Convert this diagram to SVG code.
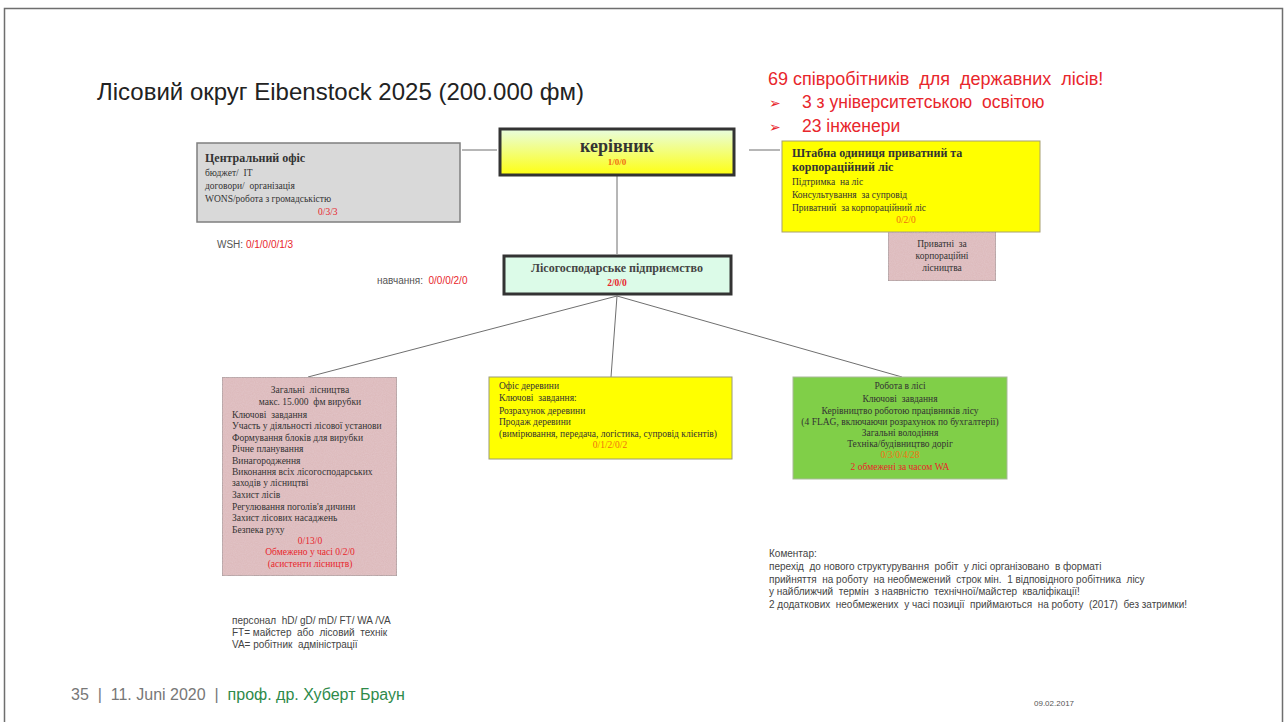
<svg xmlns="http://www.w3.org/2000/svg" width="1285" height="722" viewBox="0 0 1285 722">
<defs>
<linearGradient id="gBoss" x1="0" y1="0" x2="0" y2="1">
<stop offset="0" stop-color="#e8fde0"/>
<stop offset="1" stop-color="#ffff10"/>
</linearGradient>
<filter id="tex" x="0" y="0" width="1" height="1">
<feTurbulence type="fractalNoise" baseFrequency="0.9" numOctaves="2" seed="3" result="n"/>
<feColorMatrix in="n" type="matrix" values="0 0 0 0 0.85  0 0 0 0 0.7  0 0 0 0 0.72  0 0 0 0.35 0" result="c"/>
<feComposite in="c" in2="SourceGraphic" operator="in" result="t"/>
<feMerge><feMergeNode in="SourceGraphic"/><feMergeNode in="t"/></feMerge>
</filter>
<style>
text{white-space:pre}
.sans{font-family:"Liberation Sans",Arial,sans-serif}
.serif{font-family:"Liberation Serif","Times New Roman",serif}
.bt{font-family:"Liberation Serif","Times New Roman",serif;font-size:9.5px;fill:#333}
.bh{font-family:"Liberation Serif","Times New Roman",serif;font-size:12px;font-weight:bold;fill:#333}
.red{fill:#e8262c}
.org{fill:#f07010}
.gray{fill:#555}
.conn{stroke:#6f6f6f;stroke-width:1;fill:none}
.pink{fill:#dcb8ba;stroke:#858585;stroke-width:1}
.c{text-anchor:middle}
</style>
</defs>
<rect x="0" y="0" width="1285" height="722" fill="#ffffff"/>
<path d="M4.5 722 V8.5 H1282.5 V722" fill="none" stroke="#6e6e6e" stroke-width="1.5"/>

<g id="title">
<text x="97" y="100" class="sans" font-size="24" fill="#222">Лісовий округ Eibenstock 2025 (200.000 фм)</text>
</g>
<g id="staff-summary" class="sans" fill="#e8262c">
<text x="768" y="85" font-size="18">69 співробітників  для  державних  лісів!</text>
<text x="769" y="108" font-size="14">➢</text>
<text x="802" y="108" font-size="17.5">3 з університетською  освітою</text>
<text x="769" y="132" font-size="14">➢</text>
<text x="802" y="132" font-size="17.5">23 інженери</text>
</g>

<g id="connectors">
<line class="conn" x1="462" y1="150" x2="497" y2="150"/>
<line class="conn" x1="749" y1="150" x2="780" y2="150"/>
<line class="conn" x1="617" y1="176" x2="617" y2="254"/>
<line class="conn" x1="617" y1="296" x2="308" y2="377"/>
<line class="conn" x1="617" y1="296" x2="611" y2="377"/>
<line class="conn" x1="617" y1="296" x2="902" y2="377"/>
</g>

<g id="central-office">
<rect x="197" y="143" width="263" height="79" fill="#d9d9d9" stroke="#7f7f7f" stroke-width="1.5"/>
<text x="205" y="162" class="bh" font-size="14">Центральний офіс</text>
<text x="205" y="176" class="bt" font-size="10.5">бюджет/  IT</text>
<text x="205" y="189" class="bt" font-size="10.5">договори/  організація</text>
<text x="205" y="202" class="bt" font-size="10.5">WONS/робота з громадськістю</text>
<text x="318" y="215" class="bt red" font-size="10">0/3/3</text>
</g>

<g id="wsh">
<text x="217" y="248" class="sans" font-size="10"><tspan class="gray">WSH: </tspan><tspan class="red">0/1/0/0/1/3</tspan></text>
</g>

<g id="head">
<rect x="500" y="129" width="234" height="46" fill="url(#gBoss)" stroke="#333" stroke-width="3"/>
<text x="617" y="152" class="serif c" font-size="18" font-weight="bold" fill="#333">керівник</text>
<text x="617" y="165" class="serif c org" font-size="9" font-weight="bold">1/0/0</text>
</g>

<g id="private-forest-unit">
<rect x="782" y="141" width="258" height="91" fill="#ffff00" stroke="#a8a070" stroke-width="1"/>
<text x="792" y="157" class="bh" font-size="11">Штабна одиниця приватний та</text>
<text x="792" y="171" class="bh" font-size="11">корпораційний ліс</text>
<text x="792" y="185" class="bt">Підтримка  на ліс</text>
<text x="792" y="198" class="bt">Консультування  за супровід</text>
<text x="792" y="211" class="bt">Приватний  за корпораційний ліс</text>
<text x="906" y="223" class="bt c org">0/2/0</text>
</g>

<g id="private-forestries">
<rect x="888" y="232" width="108" height="49" class="pink" filter="url(#tex)"/>
<text x="942" y="247" class="bt c">Приватні  за</text>
<text x="942" y="259" class="bt c">корпораційні</text>
<text x="942" y="271" class="bt c">лісництва</text>
</g>

<g id="forestry-enterprise">
<rect x="504" y="256" width="227" height="38" fill="#dcfbe8" stroke="#333" stroke-width="3"/>
<text x="617" y="272" class="serif c" font-size="12" font-weight="bold" fill="#444">Лісогосподарське підприємство</text>
<text x="617" y="286" class="serif c red" font-size="9.5" font-weight="bold">2/0/0</text>
</g>

<g id="training">
<text x="377" y="284" class="sans" font-size="10"><tspan class="gray">навчання:  </tspan><tspan class="red">0/0/0/2/0</tspan></text>
</g>

<g id="general-forestries">
<rect x="222" y="377" width="175" height="199" class="pink" filter="url(#tex)"/>
<text x="310" y="393" class="bt c" font-size="10.5">Загальні  лісництва</text>
<text x="310" y="405" class="bt c" font-size="10.5">макс. 15.000  фм вирубки</text>
<text x="232" y="418" class="bt">Ключові  завдання</text>
<text x="232" y="429" class="bt">Участь у діяльності лісової установи</text>
<text x="232" y="441" class="bt">Формування блоків для вирубки</text>
<text x="232" y="452" class="bt">Річне планування</text>
<text x="232" y="464" class="bt">Винагородження</text>
<text x="232" y="475" class="bt">Виконання всіх лісогосподарських</text>
<text x="232" y="486" class="bt">заходів у лісництві</text>
<text x="232" y="498" class="bt">Захист лісів</text>
<text x="232" y="510" class="bt">Регулювання поголів'я дичини</text>
<text x="232" y="521" class="bt">Захист лісових насаджень</text>
<text x="232" y="533" class="bt">Безпека руху</text>
<text x="310" y="544" class="bt c red">0/13/0</text>
<text x="310" y="555" class="bt c red">Обмежено у часі 0/2/0</text>
<text x="310" y="567" class="bt c red">(асистенти лісництв)</text>
</g>

<g id="timber-office">
<rect x="489" y="377" width="243" height="82" fill="#ffff00" stroke="#9a9a7a" stroke-width="1"/>
<text x="499" y="389" class="bt">Офіс деревини</text>
<text x="499" y="401" class="bt">Ключові  завдання:</text>
<text x="499" y="414" class="bt">Розрахунок деревини</text>
<text x="499" y="425" class="bt">Продаж деревини</text>
<text x="499" y="437" class="bt">(вимірювання, передача, логістика, супровід клієнтів)</text>
<text x="610" y="448" class="bt c org">0/1/2/0/2</text>
</g>

<g id="forest-work">
<rect x="793" y="377" width="214" height="102" fill="#80cf48" stroke="#a9b99a" stroke-width="1"/>
<text x="900" y="389" class="bt c">Робота в лісі</text>
<text x="900" y="402" class="bt c">Ключові  завдання</text>
<text x="900" y="414" class="bt c">Керівництво роботою працівників лісу</text>
<text x="900" y="425" class="bt c">(4 FLAG, включаючи розрахунок по бухгалтерії)</text>
<text x="900" y="436" class="bt c">Загальні володіння</text>
<text x="900" y="447" class="bt c">Техніка/будівництво доріг</text>
<text x="900" y="458" class="bt c org">0/3/0/4/28</text>
<text x="900" y="470" class="bt c red">2 обмежені за часом WA</text>
</g>

<g id="comment" class="sans" font-size="10" fill="#444">
<text x="769" y="557">Коментар:</text>
<text x="769" y="570">перехід  до нового структурування  робіт  у лісі організовано  в форматі</text>
<text x="769" y="583">прийняття  на роботу  на необмежений  строк мін.  1 відповідного робітника  лісу</text>
<text x="769" y="595">у найближчий  термін  з наявністю  технічної/майстер  кваліфікації!</text>
<text x="769" y="608">2 додаткових  необмежених  у часі позиції  приймаються  на роботу  (2017)  без затримки!</text>
</g>

<g id="personnel-legend" class="sans" font-size="10" fill="#444">
<text x="232" y="624">персонал  hD/ gD/ mD/ FT/ WA /VA</text>
<text x="232" y="636">FT= майстер  або  лісовий  технік</text>
<text x="232" y="648">VA= робітник  адміністрації</text>
</g>

<g id="footer" class="sans">
<text x="71" y="700" font-size="16" fill="#777">35  |  11. Juni 2020  |  <tspan fill="#2e8a4a">проф. др. Хуберт Браун</tspan></text>
<text x="1034" y="706" font-size="8" fill="#555">09.02.2017</text>
</g>
</svg>
